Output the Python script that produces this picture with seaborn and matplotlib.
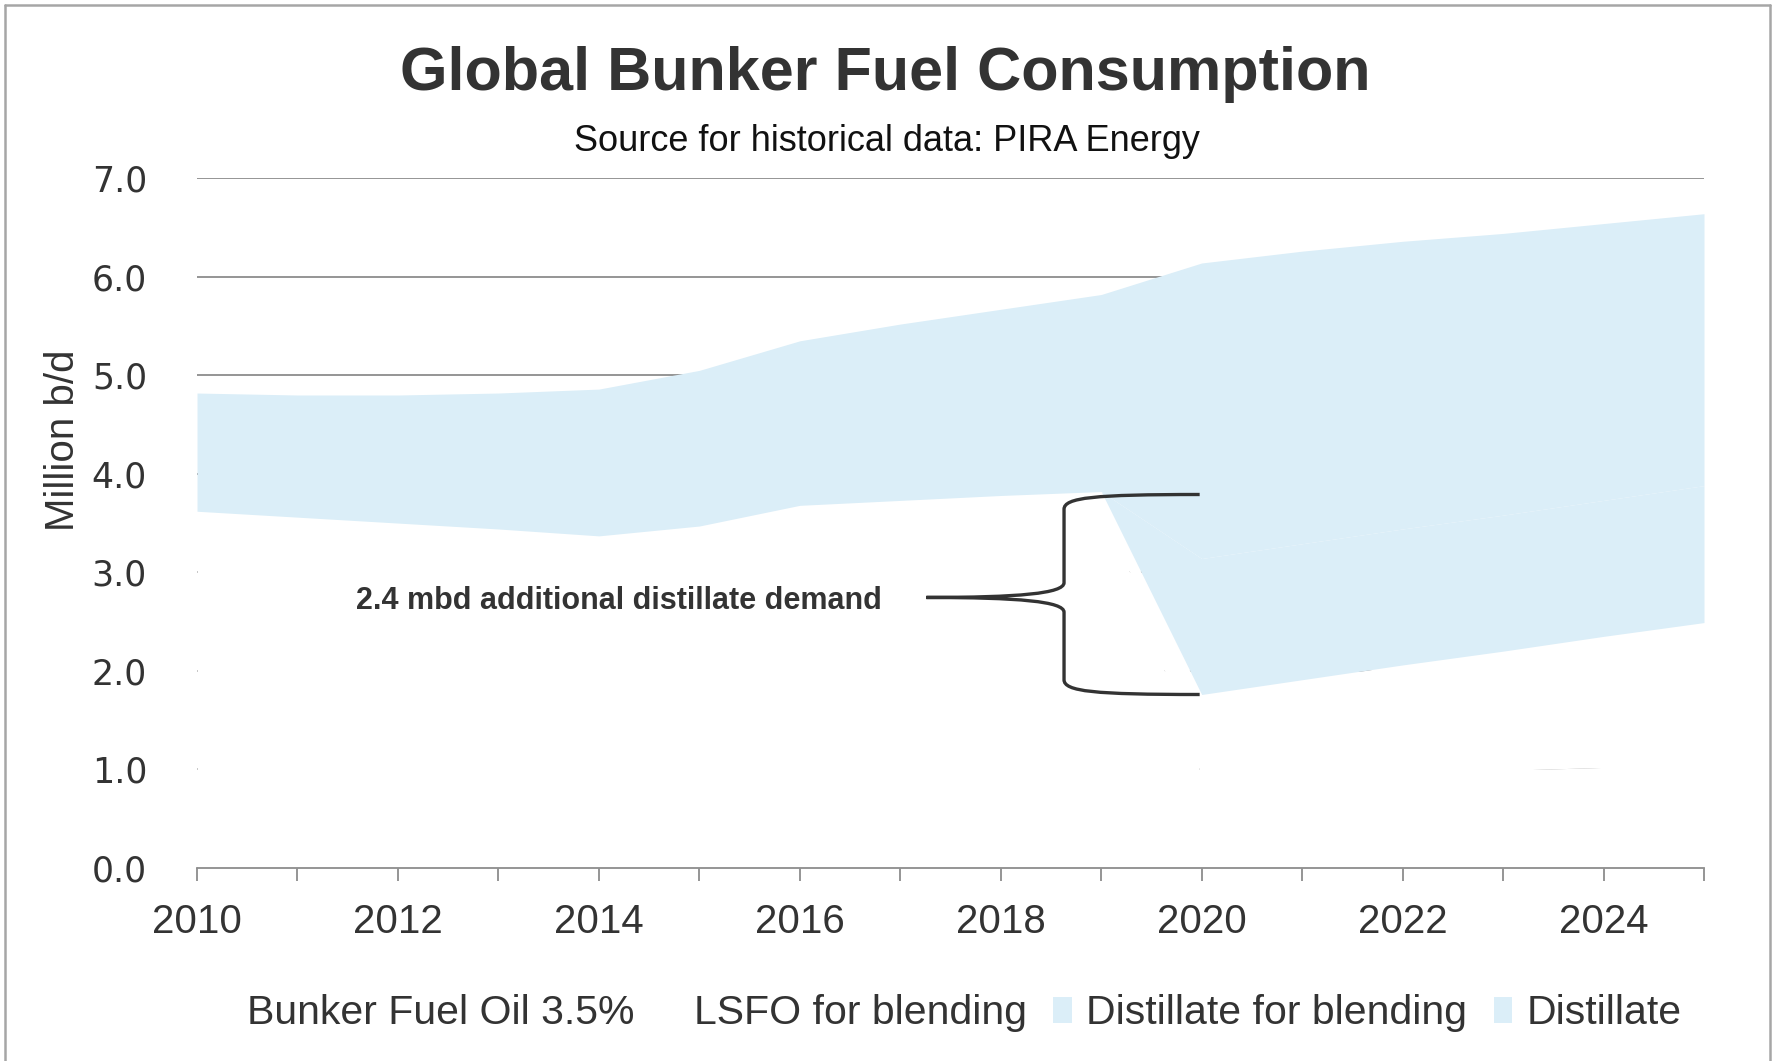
import numpy as np
import pandas as pd
import matplotlib
matplotlib.use("Agg")
import matplotlib.pyplot as plt
from matplotlib.path import Path
from matplotlib.patches import PathPatch, Patch
from matplotlib.lines import Line2D
import seaborn as sns

# data (million b/d)
years = list(range(2010, 2026))
bunker_fuel_oil = [3.62, 3.56, 3.50, 3.44, 3.37, 3.47, 3.68, 3.73, 3.78, 3.82,
                   0.93, 0.95, 0.97, 0.99, 1.02, 1.05]
lsfo_blending = [0.00, 0.00, 0.00, 0.00, 0.00, 0.00, 0.00, 0.00, 0.00, 0.00,
                 0.83, 0.96, 1.09, 1.21, 1.33, 1.44]
distillate_blending = [0.00, 0.00, 0.00, 0.00, 0.00, 0.00, 0.00, 0.00, 0.00, 0.00,
                       1.38, 1.38, 1.38, 1.38, 1.38, 1.39]
distillate = [1.20, 1.24, 1.30, 1.38, 1.49, 1.58, 1.67, 1.79, 1.89, 2.00,
              3.00, 2.97, 2.92, 2.86, 2.81, 2.76]
series_names = ["Bunker Fuel Oil 3.5%", "LSFO for blending",
                "Distillate for blending", "Distillate"]
series_colors = ["#ffffff", "#ffffff", "#dbeef8", "#dbeef8"]
xtick_labels = ["2010", "", "2012", "", "2014", "", "2016", "", "2018", "",
                "2020", "", "2022", "", "2024", ""]
ytick_values = [0, 1, 2, 3, 4, 5, 6, 7]
note_text = "2.4 mbd additional distillate demand"

df = pd.DataFrame({
    "year": years,
    series_names[0]: bunker_fuel_oil,
    series_names[1]: lsfo_blending,
    series_names[2]: distillate_blending,
    series_names[3]: distillate,
})

sns.set_theme(style="white")
plt.rcParams["font.family"] = ["Liberation Sans", "DejaVu Sans"]
text_col = "#333333"
grid_col = "#8c8c8c"

fig = plt.figure(figsize=(17.75, 10.61), dpi=100)
ax = fig.add_axes([0.111, 0.182, 0.849, 0.650])

ax.stackplot(df["year"], [df[n] for n in series_names], colors=series_colors,
             linewidth=0, labels=series_names, zorder=1)

ax.set_xlim(2010, 2025)
ax.set_ylim(0, 7)
ax.set_axisbelow(True)
ax.yaxis.grid(True, color=grid_col, linewidth=1.3)
ax.xaxis.grid(False)
sns.despine(ax=ax, left=True, right=True, top=True)
ax.spines["bottom"].set_color(grid_col)
ax.spines["bottom"].set_linewidth(1.3)

ax.set_xticks(years)
ax.set_xticklabels(xtick_labels, fontsize=29, color=text_col)
ax.tick_params(axis="x", direction="out", length=9, width=1.3, color=grid_col,
               bottom=True, pad=16)
ax.set_yticks(ytick_values)
ax.set_yticklabels([f"{v:.1f}" for v in ytick_values], fontsize=25,
                   color=text_col, family="DejaVu Sans")
ax.tick_params(axis="y", length=0, pad=36)

ax.set_ylabel("Million b/d", fontsize=29, color=text_col)
ax.yaxis.set_label_coords(-0.076, 0.62)

# curly brace between the 2019 and 2020 residual-fuel tops
white_top = df[series_names[0]] + df[series_names[1]]
y_top = white_top[df["year"] == 2019].iloc[0] - 0.03
y_bot = white_top[df["year"] == 2020].iloc[0]
y_mid = (y_top + y_bot) / 2 - 0.03
x_end, x_v, x_tip = 2019.98, 2018.63, 2017.26
verts = [(x_end, y_top), (x_v + 0.3, y_top), (x_v, y_top - 0.03), (x_v, y_top - 0.15),
         (x_v, y_mid + 0.15),
         (x_v, y_mid + 0.04), (x_v - 0.45, y_mid), (x_tip, y_mid),
         (x_v - 0.45, y_mid), (x_v, y_mid - 0.04), (x_v, y_mid - 0.15),
         (x_v, y_bot + 0.15),
         (x_v, y_bot + 0.03), (x_v + 0.3, y_bot), (x_end, y_bot)]
codes = [Path.MOVETO, Path.CURVE4, Path.CURVE4, Path.CURVE4,
         Path.LINETO,
         Path.CURVE4, Path.CURVE4, Path.CURVE4,
         Path.CURVE4, Path.CURVE4, Path.CURVE4,
         Path.LINETO,
         Path.CURVE4, Path.CURVE4, Path.CURVE4]
ax.add_patch(PathPatch(Path(verts, codes), facecolor="none", edgecolor=text_col,
                       linewidth=2.4, zorder=4, capstyle="butt"))
ax.text(x_tip - 0.44, y_mid - 0.04, note_text, ha="right", va="center", fontsize=22,
        fontweight="bold", color=text_col, zorder=4)

fig.text(0.499, 0.930, "Global Bunker Fuel Consumption", ha="center", va="center",
         fontsize=44, fontweight="bold", color=text_col)
fig.text(0.5, 0.867, "Source for historical data: PIRA Energy", ha="center",
         va="center", fontsize=26, color="#111111")

handles = [Patch(facecolor=c, edgecolor="none") for c in series_colors]
fig.legend(handles, series_names, loc="center", bbox_to_anchor=(0.534, 0.045),
           ncol=4, frameon=False, fontsize=29.5, handlelength=0.45, handleheight=0.6,
           handletextpad=0.35, columnspacing=0.65, borderpad=0,
           labelcolor=text_col)

# outer frame of the chart area
for xs, ys in [([0.003, 0.003], [0.0, 0.995]), ([0.003, 0.997], [0.995, 0.995]),
               ([0.997, 0.997], [0.0, 0.995])]:
    fig.add_artist(Line2D(xs, ys, transform=fig.transFigure, color="#a6a6a6",
                          linewidth=1.8))

fig.savefig("out.png", dpi=100, facecolor="white")
plt.close(fig)
